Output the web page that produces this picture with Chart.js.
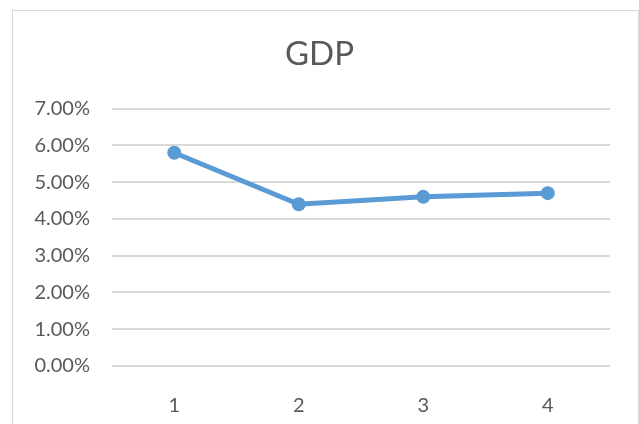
<!DOCTYPE html>
<html>
<head>
<meta charset="utf-8">
<script src="https://cdn.jsdelivr.net/npm/chart.js@4/dist/chart.umd.min.js"></script>
<style>
  html, body { margin: 0; padding: 0; background: #fff; overflow: hidden; }
  #frame { position: absolute; left: 12px; top: 10px; width: 625px; height: 440px; border: 1px solid #d9d9d9; }
  #wrap { position: absolute; left: 0; top: 0; width: 639px; height: 424px; }
</style>
</head>
<body>
<div id="frame"></div>
<div id="wrap"><canvas id="gdp"></canvas></div>
<script>
// chart data
const categories = ['1', '2', '3', '4'];
const gdpValues = [0.058, 0.044, 0.046, 0.047];
const yTicks = [0, 0.01, 0.02, 0.03, 0.04, 0.05, 0.06, 0.07];

const textColor = '#595959';
const lineColor = '#5b9bd5';
const gridColor = '#d9d9d9';

let ctx = document.getElementById('gdp').getContext('2d');
let gdpChart = new Chart(ctx, {
    type: 'line',
    data: {
        labels: categories,
        datasets: [{
            label: 'GDP',
            data: gdpValues,
            borderColor: lineColor,
            backgroundColor: lineColor,
            borderWidth: 5,
            pointRadius: 7,
            pointHoverRadius: 7,
            pointBorderWidth: 0,
            tension: 0,
        }]
    },
    options: {
        responsive: true,
        maintainAspectRatio: false,
        animation: false,
        layout: { padding: { left: 29, right: 29, top: 0, bottom: 0 } },
        plugins: {
            legend: { display: false },
            tooltip: { enabled: false },
            title: {
                display: true,
                text: 'GDP',
                color: textColor,
                font: { family: 'Lato', size: 33, weight: 'normal' },
                padding: { top: 35, bottom: 34 },
            }
        },
        scales: {
            x: {
                offset: true,
                grid: { display: false },
                border: { display: false },
                ticks: {
                    color: textColor,
                    font: { family: 'Lato', size: 20 },
                    padding: 20,
                },
                afterFit: (scale) => { scale.height = 58; }
            },
            y: {
                min: 0,
                max: 0.07,
                grid: { color: gridColor, lineWidth: 2, drawTicks: false },
                border: { display: false },
                afterBuildTicks: (scale) => { scale.ticks = yTicks.map(v => ({ value: v })); },
                ticks: {
                    color: textColor,
                    font: { family: 'Lato', size: 20 },
                    padding: 22,
                    callback: (v) => (v * 100).toFixed(2) + '%'
                },
                afterFit: (scale) => { scale.width = 83; }
            }
        }
    }
});
</script>
</body>
</html>
